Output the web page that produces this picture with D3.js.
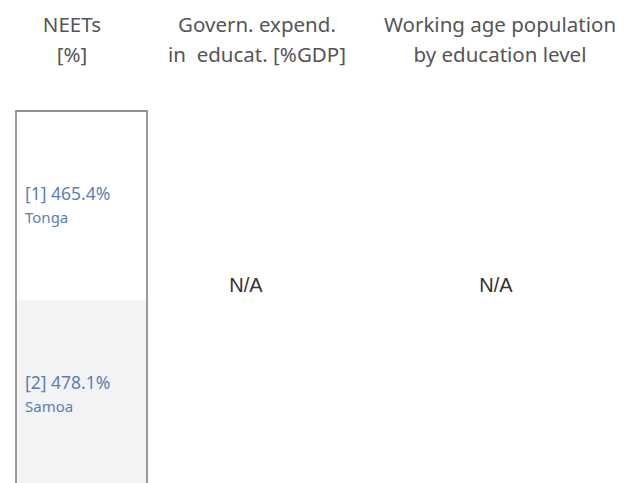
<!DOCTYPE html>
<html>
<head>
<meta charset="utf-8">
<script src="https://cdn.jsdelivr.net/npm/d3@7"></script>
<style>
  body { margin: 0; background: #fff; }
  text { font-family: "Noto Sans", "Open Sans", sans-serif; }
</style>
</head>
<body>
<div id="output"></div>
<script>
var w = 630;   // width of the svg
var h = 483;   // height of the svg

// data
var countries = ['Tonga', 'Samoa'];
var ranks = [1, 2];
var neets = [465.4, 478.1];
var headers = [['NEETs', '[%]'], ['Govern. expend.', 'in  educat. [%GDP]'], ['Working age population', 'by education level']];
var missing = ['N/A', 'N/A']; // the two columns with no data

var svg = d3.select('#output').append('svg')
  .attr('width', w)
  .attr('height', h);

// columns: header centres
var colX = d3.scaleOrdinal().domain([0, 1, 2]).range([72, 257, 500]);
// rows of the NEETs table
var rowY = d3.scaleBand().domain(ranks).range([111, 489]);
var boxX0 = 16, boxX1 = 147;

// header text, two lines each
headers.forEach(function(lines, i) {
  var t = svg.append('text')
    .attr('text-anchor', 'middle')
    .attr('fill', '#555')
    .attr('font-size', 20.5);
  lines.forEach(function(l, j) {
    t.append('tspan')
      .attr('x', colX(i))
      .attr('y', 32 + j * 30)
      .attr('xml:space', 'preserve')
      .text(l);
  });
});

// row backgrounds (every second row shaded)
svg.selectAll('rect.row')
  .data(ranks)
  .enter()
  .append('rect')
  .attr('class', 'row')
  .attr('x', boxX0)
  .attr('y', function(d) { return rowY(d); })
  .attr('width', boxX1 - boxX0)
  .attr('height', rowY.bandwidth())
  .attr('fill', function(d, i) { return i % 2 ? '#f3f3f3' : '#fff'; });

// frame round the table
svg.append('path')
  .attr('d', 'M' + boxX0 + ',' + (h + 5) + 'V' + rowY.range()[0] + 'H' + boxX1 + 'V' + (h + 5))
  .attr('fill', 'none')
  .attr('stroke', '#909090')
  .attr('stroke-width', 1.8);

// value labels
var lab = svg.selectAll('g.lab')
  .data(ranks)
  .enter()
  .append('g')
  .attr('class', 'lab')
  .attr('transform', function(d) { return 'translate(25,' + (rowY(d) + rowY.bandwidth() / 2) + ')'; });

lab.append('text')
  .attr('y', -5.5)
  .attr('fill', '#5b7fb3')
  .attr('font-size', 17.5)
  .text(function(d, i) { return '[' + d + '] ' + neets[i].toFixed(1) + '%'; });

lab.append('text')
  .attr('y', 17.5)
  .attr('fill', '#5b7fb3')
  .attr('font-size', 15)
  .text(function(d, i) { return countries[i]; });

// N/A for the empty columns
svg.selectAll('text.na')
  .data(missing)
  .enter()
  .append('text')
  .attr('class', 'na')
  .attr('x', function(d, i) { return [246, 496][i]; })
  .attr('y', 292)
  .attr('text-anchor', 'middle')
  .attr('fill', '#333')
  .attr('font-size', 20)
  .style('font-family', '"Liberation Sans", Arial, sans-serif')
  .text(function(d) { return d; });
</script>
</body>
</html>
